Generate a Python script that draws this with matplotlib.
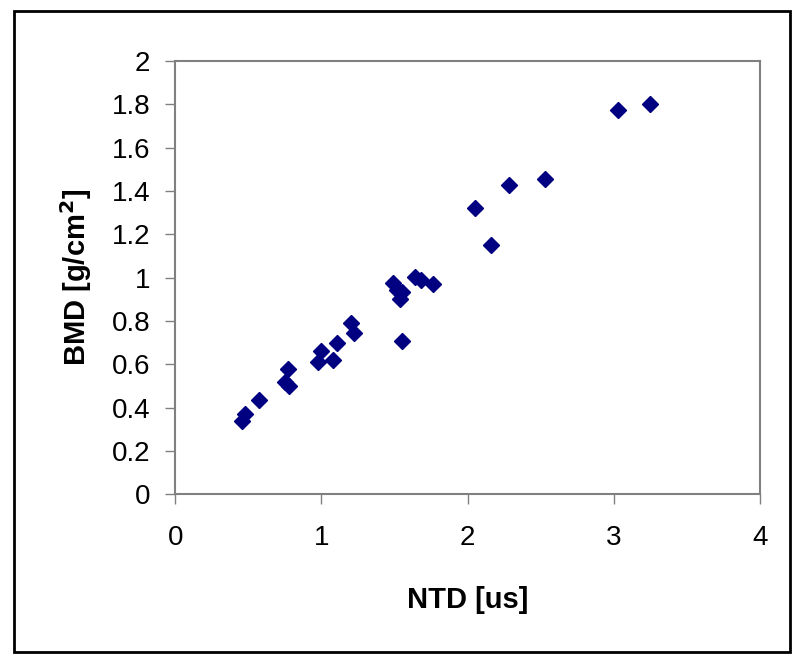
import matplotlib
matplotlib.use("Agg")
import matplotlib.pyplot as plt
from matplotlib.patches import Rectangle

# NTD [us] vs BMD [g/cm2]
ntd = [0.46, 0.48, 0.57, 0.75, 0.77, 0.78, 0.98, 1.00, 1.08, 1.11, 1.20, 1.22,
       1.49, 1.52, 1.55, 1.54, 1.55, 1.64, 1.68, 1.76, 2.05, 2.16, 2.28, 2.53,
       3.03, 3.25]
bmd = [0.34, 0.37, 0.435, 0.52, 0.58, 0.50, 0.61, 0.66, 0.62, 0.70, 0.79, 0.745,
       0.975, 0.945, 0.935, 0.90, 0.71, 1.005, 0.99, 0.97, 1.32, 1.15, 1.43, 1.455,
       1.775, 1.80]

xticks = [0, 1, 2, 3, 4]
yticks = [0, 0.2, 0.4, 0.6, 0.8, 1, 1.2, 1.4, 1.6, 1.8, 2]

plt.rcParams['font.family'] = ['Liberation Sans', 'DejaVu Sans']

fig = plt.figure(figsize=(8, 6.64), dpi=100)
ax = fig.add_axes([0.219, 0.2555, 0.731, 0.6525])

ax.plot(ntd, bmd, linestyle='none', marker='D', markersize=8.5,
        color='#000080', markeredgecolor='#000080')

ax.set_xlim(0, 4)
ax.set_ylim(0, 2)
ax.set_xticks(xticks)
ax.set_yticks(yticks)
ax.set_xticklabels([str(v) for v in xticks])
ax.set_yticklabels(['0', '0.2', '0.4', '0.6', '0.8', '1', '1.2', '1.4', '1.6', '1.8', '2'])

for s in ax.spines.values():
	s.set_color('#808080')
	s.set_linewidth(1.5)

ax.tick_params(axis='both', direction='out', length=7, width=1, color='#808080',
               labelsize=20, labelcolor='black')
ax.tick_params(axis='y', pad=11)
ax.tick_params(axis='x', pad=15)

ax.set_xlabel("NTD [us]", fontsize=21, fontweight='bold', labelpad=25)
ax.set_ylabel("BMD [g/cm$^\\mathbf{2}$]", fontsize=21, fontweight='bold', labelpad=13)

# outer frame around the whole chart
fig.patches.append(Rectangle((14/800, 1 - 652/664), (790-14)/800, (652-11)/664,
                             transform=fig.transFigure, fill=False,
                             edgecolor='black', linewidth=2))

fig.savefig("out.png", dpi=100)
